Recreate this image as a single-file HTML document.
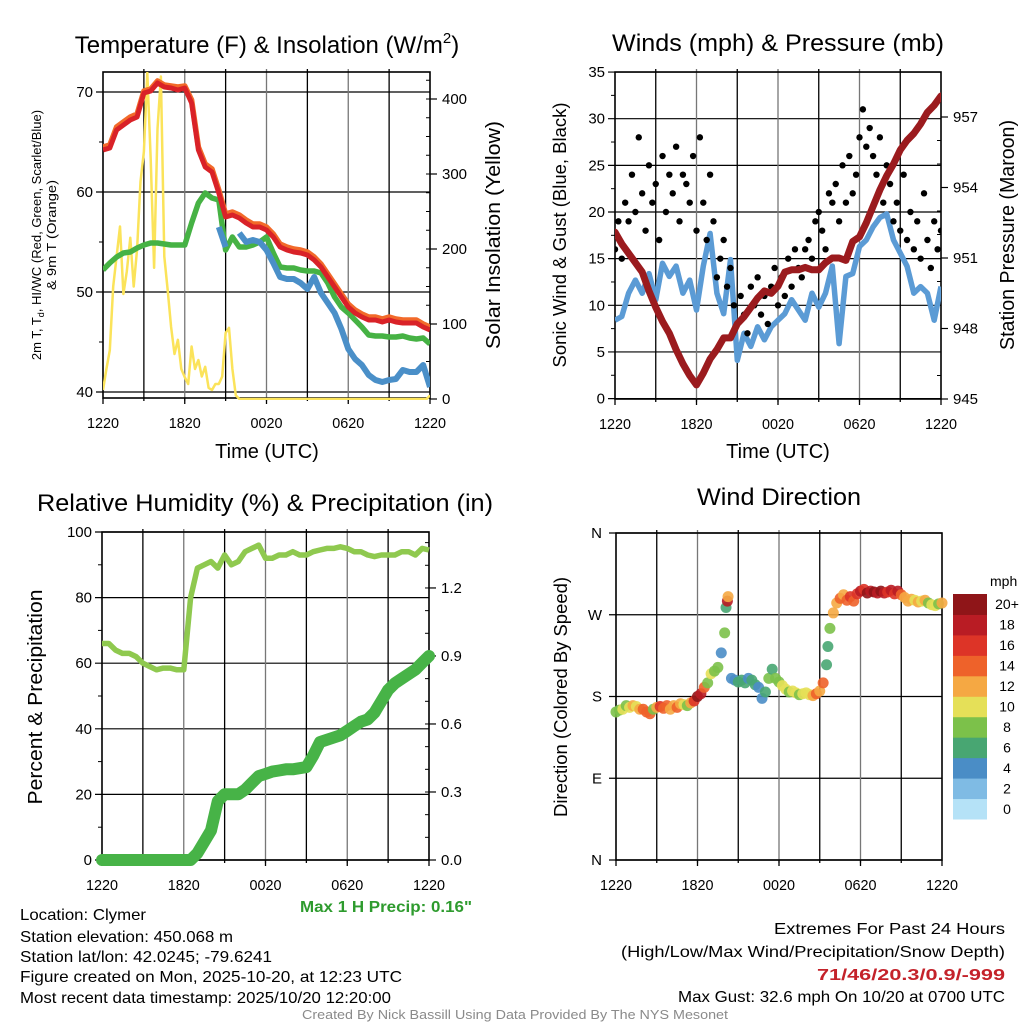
<!DOCTYPE html>
<html><head><meta charset="utf-8"><style>
html,body{margin:0;padding:0;background:#fff;}
svg{display:block;font-family:"Liberation Sans",sans-serif;}
</style></head><body>
<svg id="c" width="1024" height="1024" viewBox="0 0 1024 1024"></svg>
<script>
// ---------- DATA ----------
const hours=[]; for(let i=0;i<=48;i++) hours.push(i*0.5);
const quarterHours=[]; for(let i=0;i<=96;i++) quarterHours.push(i*0.25);
const timeTickLabels=["1220","1820","0020","0620","1220"];
const tempTicks=[40,50,60,70];
const insolTicks=[0,100,200,300,400];
const windTicks=[0,5,10,15,20,25,30,35];
const presTicks=[945,948,951,954,957];
const rhTicks=[0,20,40,60,80,100];
const precipTicks=[0.0,0.3,0.6,0.9,1.2];
const precipTickLabels=["0.0","0.3","0.6","0.9","1.2"];
const dirTickLabels=["N","E","S","W","N"];
const speedBinLabels=["0","2","4","6","8","10","12","14","16","18","20+"];

const tempRed=[64.2,64.4,66.2,66.7,67.2,67.5,69.9,70.1,70.9,70.5,70.4,70.2,70.4,68.9,64.2,62.5,62.0,59.9,57.5,57.7,57.4,56.9,56.5,56.5,56.2,55.5,54.5,54.2,54.0,53.9,53.7,53.2,52.5,51.5,50.5,49.5,48.5,47.9,47.5,47.2,47.2,47.0,47.2,47.0,46.9,46.9,46.9,46.5,46.2];
const temp9m=[64.5,64.7,66.5,67.0,67.5,67.8,70.1,70.3,71.1,70.7,70.6,70.5,70.6,69.2,64.5,62.8,62.3,60.2,57.8,58.0,57.7,57.2,56.8,56.8,56.5,55.8,54.8,54.5,54.3,54.2,54.0,53.5,52.8,51.8,50.8,49.8,48.8,48.2,47.8,47.5,47.5,47.3,47.5,47.3,47.2,47.2,47.2,46.8,46.5];
const dewGreen=[52.2,52.9,53.5,53.9,54.0,54.4,54.7,54.9,54.9,54.8,54.7,54.7,54.7,56.9,58.9,59.9,59.4,59.2,54.2,55.5,54.5,54.5,54.7,55.0,55.5,53.9,52.5,52.4,52.4,52.2,52.1,52.1,51.9,50.9,49.5,48.5,47.9,47.2,46.5,45.7,45.6,45.6,45.5,45.5,45.6,45.4,45.3,45.4,44.8];
const windChill=[null,null,null,null,null,null,null,null,null,null,null,null,null,null,null,null,null,56.5,54.5,null,55.9,55.0,55.2,55.0,54.2,52.9,51.5,51.3,51.3,50.9,50.3,51.5,49.9,48.9,47.9,46.3,44.3,43.3,42.7,41.7,41.2,41.0,41.2,41.3,42.2,42.0,42.0,42.7,40.5];
const insolation=[12,40,65,150,190,230,140,170,215,150,200,290,330,435,320,175,360,430,190,145,96,60,79,40,29,20,70,40,52,30,43,15,12,20,20,30,88,95,40,5,0,0,0,0,0,0,0,0,0,0,0,0,0,0,0,0,0,0,0,0,0,0,0,0,0,0,0,0,0,0,0,0,0,0,0,0,0,0,0,0,0,0,0,0,0,0,0,0,0,0,0,0,0,0,0,0,5];
const windSpeed=[8.4,8.8,11.3,12.7,11.3,13.4,10.6,14.5,13.1,14.2,11.3,12.7,9.5,14.2,17.7,11.3,9.1,14.9,4.1,7.0,5.6,7.7,6.3,7.7,8.4,9.1,10.6,9.5,8.4,11.3,9.8,11.3,14.2,5.9,13.1,13.4,16.3,17.0,18.4,19.4,19.8,17.0,15.6,14.2,11.3,12.0,11.3,8.4,12.0];
const windGust=[16,19,15,21,19,24,20,28,22, 18,25,21,23,17,26,20,24, 22,27,19,24,23,21,26,18, 28,21,17,24,19,13,15,17, 12,14,10,8,11,9,7,12, 10,13,9,11,8,12,14,10, 13,11,15,12,16,14,13,16, 17,15,19,20,18,16,22,21, 23,19,25,21,26,22,24,28, 31,27,29,26,24,28,21,25, 23,19,21,18,24,17,20,16, 19,15,22,17,14,19,16,18];
const pressure=[952.1,951.6,951.2,950.8,950.4,949.6,948.9,948.3,947.8,947.1,946.5,946.0,945.6,946.1,946.7,947.1,947.6,947.6,948.2,948.5,948.9,949.3,949.6,949.5,949.8,950.4,950.5,950.5,950.6,950.5,950.5,950.8,951.0,951.0,950.9,951.7,951.9,952.5,953.2,953.9,954.5,955.0,955.6,956.0,956.3,956.7,957.2,957.5,957.9];
const relHum=[66,66,64,63,63,62,60,59,58,58.5,58.5,58,58,80,89,90,91,89,93,90,91,94,95,96,92,92,93,93,94,93,93,94,94.5,95,95,95.5,95,94,94,93,92.5,93,93,93,94,94,93,95,94.5];
const precip=[0,0,0,0,0,0,0,0,0,0,0,0,0,0,0.03,0.08,0.13,0.26,0.29,0.29,0.29,0.31,0.34,0.37,0.38,0.39,0.395,0.40,0.40,0.405,0.41,0.46,0.52,0.53,0.54,0.55,0.57,0.59,0.61,0.62,0.65,0.70,0.75,0.78,0.80,0.82,0.84,0.87,0.90];
const dirTimes=[0,0.25,0.5,0.75,1,1.25,1.5,1.75,2,2.25,2.5,2.75,3,3.25,3.5,3.75,4,4.25,4.5,4.75,5,5.25,5.5,5.75,6,6.25,6.5,6.75,7,7.25,7.5,7.75,8,8.1,8.2,8.25,8.5,8.75,9,9.25,9.5,9.75,10,10.25,10.5,10.75,11,11.25,11.5,11.75,12,12.25,12.5,12.75,13,13.25,13.5,13.75,14,14.25,14.5,14.75,15,15.25,15.5,15.6,15.75,16,16.25,16.5,16.75,17,17.25,17.5,17.75,18,18.25,18.5,18.75,19,19.25,19.5,19.75,20,20.25,20.5,20.75,21,21.25,21.5,21.75,22,22.25,22.5,22.75,23,23.25,23.5,23.75,24];
const dirDeg=[163,165,166,170,168,170,169,166,166,163,161,166,168,169,167,170,166,170,168,172,171,170,173,175,180,183,190,195,205,208,212,228,250,278,285,290,200,198,196,198,195,200,198,193,190,178,185,200,210,200,196,192,188,185,186,184,182,183,184,182,181,183,186,195,215,235,255,272,283,288,292,286,290,285,293,296,298,294,296,295,294,296,294,295,297,293,296,292,289,285,287,286,284,285,286,283,281,280,282,283];
const dirSpeed=[8,8,10,8,10,12,10,12,14,14,14,8,12,16,14,14,12,12,14,12,10,8,12,16,20,18,14,8,10,8,8,4,8,6,18,12,4,4,6,6,6,4,6,6,4,4,6,8,6,8,8,10,10,8,10,10,8,10,10,10,12,14,12,14,6,6,8,12,12,14,12,14,16,14,16,18,16,20,18,20,18,20,18,16,18,16,18,14,12,12,12,10,12,10,12,8,10,10,8,12];
const binColors=["#b5e2f7","#7fbbe4","#4a8dc6","#48a672","#7cc14a","#e5e058","#f5a843","#ee622a","#dd3427","#b91c24","#8f1518"];

// ---------- HELPERS ----------
const NS="http://www.w3.org/2000/svg";
const svg=document.getElementById('c');
function mk(tag,attrs,parent){const e=document.createElementNS(NS,tag);for(const k in attrs)e.setAttribute(k,attrs[k]);(parent||svg).appendChild(e);return e;}
function txt(s,attrs,parent){const e=mk('text',attrs,parent);e.textContent=s;return e;}
function grp(name){const g=mk('g',{});return g;}
function linePath(xs,ys,xf,yf){let d='',pen=false;for(let i=0;i<xs.length;i++){if(ys[i]===null||ys[i]===undefined){pen=false;continue;}d+=(pen?'L':'M')+xf(xs[i]).toFixed(1)+','+yf(ys[i]).toFixed(1);pen=true;}return d;}

function frame(g,L,R,T,B,name){
  for(let i=1;i<8;i++){const x=L+(R-L)*i/8;const l=mk('line',{x1:x,x2:x,y1:T-3,y2:B+3,stroke:i%2?'#000':'#777','stroke-width':1.3},g);}
  const r=mk('rect',{x:L,y:T,width:R-L,height:B-T,fill:'none',stroke:'#000','stroke-width':1.6},g);
  
  for(let i=0;i<5;i++){const x=L+(R-L)*i/4;mk('line',{x1:x,x2:x,y1:B,y2:B+6,stroke:'#000','stroke-width':1.3},g);
    const t=txt(timeTickLabels[i],{x:x,y:B+30,'font-size':15,'text-anchor':'middle',textLength:32,lengthAdjust:'spacingAndGlyphs'},g);
    }
}
function hGrid(g,L,R,y){mk('line',{x1:L-7,x2:R,y1:y,y2:y,stroke:'#000','stroke-width':1.2},g);}
function leftLabel(g,s,x,y){const t=txt(s,{x:x,y:y+5,'font-size':15,'text-anchor':'end'},g);}
function rightTick(g,R,y,s){mk('line',{x1:R,x2:R+7,y1:y,y2:y,stroke:'#000','stroke-width':1.2},g);const t=txt(s,{x:R+12,y:y+5,'font-size':15},g);}
function title(s,x,y,w){const t=txt(s,{x:x,y:y,'font-size':24,'text-anchor':'middle',textLength:w,lengthAdjust:'spacingAndGlyphs'});return t;}
function vLabel(s,x,y,fs,w,name){const t=txt(s,{x:0,y:0,'font-size':fs,'text-anchor':'middle',transform:`translate(${x},${y}) rotate(-90)`,textLength:w,lengthAdjust:'spacingAndGlyphs'});return t;}

// ---------- PANEL 1 ----------
{
const L=103,R=430,T=72,B=398;
const g=grp('temperature-panel');
const xS=t=>L+t/24*(R-L);
const yT=v=>92+(70-v)*10;
const yI=v=>399-v*0.75;
tempTicks.forEach(v=>{hGrid(g,L,R,yT(v));leftLabel(g,String(v),L-10,yT(v));});
for(let v=45;v<=65;v+=10)mk('line',{x1:L-4,x2:L,y1:yT(v),y2:yT(v),stroke:'#000'},g);
insolTicks.forEach(v=>rightTick(g,R,yI(v),String(v)));
for(let v=50;v<=425;v+=25)mk('line',{x1:R-4,x2:R,y1:yI(v),y2:yI(v),stroke:'#000'},g);
frame(g,L,R,T,B,'temperature');
const clip=mk('clipPath',{id:'cp1'});mk('rect',{x:L,y:T,width:R-L,height:B-T+2},clip);
const s=mk('g',{'clip-path':'url(#cp1)'},g);
let p;
p=mk('path',{d:linePath(quarterHours,insolation,xS,yI),fill:'none',stroke:'#fbe35a','stroke-width':2.5,'stroke-linejoin':'round'},s);
p=mk('path',{d:linePath(hours,dewGreen,xS,yT),fill:'none',stroke:'#46b244','stroke-width':5.5,'stroke-linejoin':'round'},s);
p=mk('path',{d:linePath(hours,windChill,xS,yT),fill:'none',stroke:'#4a8fc8','stroke-width':6,'stroke-linejoin':'round'},s);
p=mk('path',{d:linePath(hours,temp9m,xS,yT),fill:'none',stroke:'#f26a2a','stroke-width':5.5,'stroke-linejoin':'round'},s);
p=mk('path',{d:linePath(hours,tempRed,xS,yT),fill:'none',stroke:'#d92228','stroke-width':5,'stroke-linejoin':'round'},s);
const tt=txt('',{x:267,y:53,'font-size':24,'text-anchor':'middle'});
tt.innerHTML='Temperature (F) &amp; Insolation (W/m<tspan dy="-10" font-size="15">2</tspan><tspan dy="10">)</tspan>';
const xl=txt('Time (UTC)',{x:267,y:458,'font-size':20,'text-anchor':'middle'});
const yl=txt('',{x:0,y:0,'font-size':13,'text-anchor':'middle',transform:'translate(41,235) rotate(-90)'});

yl.innerHTML='2m T, T<tspan font-size="9" dy="3">d</tspan><tspan dy="-3">, HI/WC (Red, Green, Scarlet/Blue)</tspan>';
vLabel('& 9m T (Orange)',56,235,13,110,'y-axis-title-line2');
vLabel('Solar Insolation (Yellow)',500,235,20,228,'right-axis-title');
}
// ---------- PANEL 2 ----------
{
const L=615,R=941,T=72,B=399;
const g=grp('winds-panel');
const xS=t=>L+t/24*(R-L);
const yW=v=>398.6-v*9.33;
const yP=v=>399-(v-945)*23.5;
windTicks.forEach(v=>{hGrid(g,L,R,yW(v));leftLabel(g,String(v),L-10,yW(v));});
for(let v=2.5;v<35;v+=5)mk('line',{x1:L-4,x2:L,y1:yW(v),y2:yW(v),stroke:'#000'},g);
presTicks.forEach(v=>rightTick(g,R,yP(v),String(v)));
for(let v=946;v<958;v++)if((v-945)%3)mk('line',{x1:R-4,x2:R,y1:yP(v),y2:yP(v),stroke:'#000'},g);
frame(g,L,R,T,B,'winds');
const clip=mk('clipPath',{id:'cp2'});mk('rect',{x:L,y:T,width:R-L,height:B-T},clip);
const s=mk('g',{'clip-path':'url(#cp2)'},g);
let p=mk('path',{d:linePath(hours,windSpeed,xS,yW),fill:'none',stroke:'#5b9bd5','stroke-width':5.5,'stroke-linejoin':'round'},s);
quarterHours.forEach((t,i)=>{const c=mk('circle',{cx:xS(t),cy:yW(windGust[i]),r:3.2,fill:'#000'},s);

});
p=mk('path',{d:linePath(hours,pressure,xS,yP),fill:'none',stroke:'#9b1b1e','stroke-width':7,'stroke-linejoin':'round','stroke-linecap':'round'},s);
title('Winds (mph) & Pressure (mb)',778,51,332);
const xl=txt('Time (UTC)',{x:778,y:458,'font-size':20,'text-anchor':'middle'});
vLabel('Sonic Wind & Gust (Blue, Black)',566,235,18,265,'y-axis-title');
vLabel('Station Pressure (Maroon)',1014,235,20,230,'right-axis-title');
}
// ---------- PANEL 3 ----------
{
const L=102,R=429,T=532,B=860;
const g=grp('humidity-panel');
const xS=t=>L+t/24*(R-L);
const yR=v=>860-v*3.28;
const yP=v=>860-v*226.7;
rhTicks.forEach(v=>{hGrid(g,L,R,yR(v));leftLabel(g,String(v),L-10,yR(v));});
for(let v=10;v<100;v+=20)mk('line',{x1:L-4,x2:L,y1:yR(v),y2:yR(v),stroke:'#000'},g);
precipTicks.forEach((v,i)=>rightTick(g,R,yP(v),precipTickLabels[i]));
for(let v=0.1;v<1.45;v+=0.1)mk('line',{x1:R-4,x2:R,y1:yP(v),y2:yP(v),stroke:'#000'},g);
frame(g,L,R,T,B,'humidity');
let p=mk('path',{d:linePath(hours,relHum,xS,yR),fill:'none',stroke:'#8fc94f','stroke-width':5.5,'stroke-linejoin':'round'},g);
p=mk('path',{d:linePath(hours,precip,xS,yP),fill:'none',stroke:'#47b347','stroke-width':12,'stroke-linejoin':'round','stroke-linecap':'round'},g);
title('Relative Humidity (%) & Precipitation (in)',265,511,456);
vLabel('Percent & Precipitation',42,697,20,215,'y-axis-title');
}
// ---------- PANEL 4 ----------
{
const L=616,R=942,T=533,B=860;
const g=grp('wind-direction-panel');
const xS=t=>L+t/24*(R-L);
const yD=v=>860-v/360*(B-T);
dirTickLabels.forEach((s,i)=>{hGrid(g,L,R,yD(i*90));leftLabel(g,s,L-14,yD(i*90));});
frame(g,L,R,T,B,'wind-direction');
dirTimes.forEach((t,i)=>{const b=Math.min(10,Math.floor(dirSpeed[i]/2));
const c=mk('circle',{cx:xS(t),cy:yD(dirDeg[i]),r:5.5,fill:binColors[b],'fill-opacity':0.9},g);

});
title('Wind Direction',779,505,164);
vLabel('Direction (Colored By Speed)',567,697,18,240,'y-axis-title');
const cb=grp('speed-colorbar');
const h=(819-594)/11;
binColors.forEach((col,i)=>{const y=594+(10-i)*h;
const r=mk('rect',{x:953,y:y,width:34,height:h+0.5,fill:col},cb);


const t=txt(speedBinLabels[i],{x:1007,y:y+h/2+5,'font-size':14,'text-anchor':'middle'},cb);

});
const u=txt('mph',{x:990,y:586,'font-size':14},cb);
}
// ---------- FOOTER ----------
const foot=[
 ['Max 1 H Precip: 0.16"',300,912,172,'#2e9b2e','bold','max-precip-note'],
 ['Location: Clymer',20,920,126,'#000','normal','location-text'],
 ['Station elevation: 450.068 m',20,942,213,'#000','normal','elevation-text'],
 ['Station lat/lon: 42.0245; -79.6241',20,962,252,'#000','normal','latlon-text'],
 ['Figure created on Mon, 2025-10-20, at 12:23 UTC',20,982,382,'#000','normal','created-text'],
 ['Most recent data timestamp: 2025/10/20 12:20:00',20,1003,371,'#000','normal','timestamp-text'],
 ['Extremes For Past 24 Hours',774,934,231,'#000','normal','extremes-title'],
 ['(High/Low/Max Wind/Precipitation/Snow Depth)',621,957,384,'#000','normal','extremes-legend'],
 ['71/46/20.3/0.9/-999',817,980,188,'#c4222a','bold','extremes-values'],
 ['Max Gust: 32.6 mph On 10/20 at 0700 UTC',678,1002,327,'#000','normal','max-gust-text']];
foot.forEach(f=>{const t=txt(f[0],{x:f[1],y:f[2],'font-size':16,fill:f[4],'font-weight':f[5],textLength:f[3],lengthAdjust:'spacingAndGlyphs'});

});
const cr=txt('Created By Nick Bassill Using Data Provided By The NYS Mesonet',{x:302,y:1019,'font-size':13,fill:'#8a8a8a',textLength:426,lengthAdjust:'spacingAndGlyphs'});


</script>
</body></html>
